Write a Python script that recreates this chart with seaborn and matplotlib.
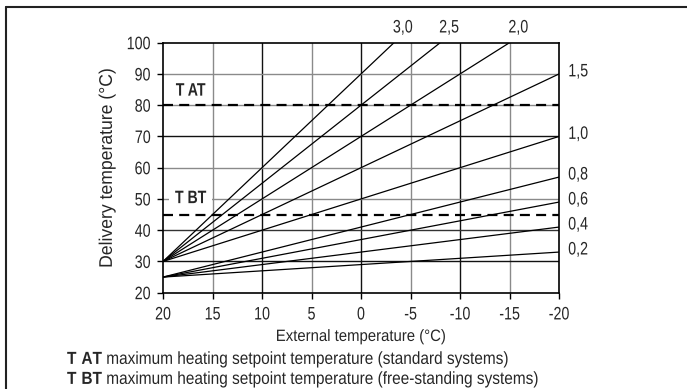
import matplotlib
matplotlib.use("Agg")
import matplotlib.pyplot as plt
from matplotlib import patheffects
from matplotlib.lines import Line2D
from matplotlib.transforms import Affine2D
import pandas as pd
import seaborn as sns

# Heating curves: slope (K of delivery temp per K of outdoor temp) and base temperature at 20 °C outside
curve_slopes = [3.0, 2.5, 2.0, 1.5, 1.0, 0.8, 0.6, 0.4, 0.2]
curve_base = [30, 30, 30, 30, 30, 25, 25, 25, 25]
curve_labels = ["3,0", "2,5", "2,0", "1,5", "1,0", "0,8", "0,6", "0,4", "0,2"]

# Maximum setpoints
t_at = 80
t_bt = 45

x_ticks = [20, 15, 10, 5, 0, -5, -10, -15, -20]
y_ticks = [20, 30, 40, 50, 60, 70, 80, 90, 100]

# Grid line shades (alternating dark / light)
v_grid = [15, 10, 5, 0, -5, -10, -15]
v_grid_col = ["#8a8a8a", "#111111", "#8a8a8a", "#111111", "#8a8a8a", "#111111", "#8a8a8a"]
h_grid = [30, 40, 50, 60, 70, 80, 90]
h_grid_col = ["#111111", "#333333", "#8a8a8a", "#8a8a8a", "#111111", "#8a8a8a", "#8a8a8a"]

X_MAX, X_MIN, Y_MIN, Y_MAX = 20, -20, 20, 100


class Squeeze(patheffects.AbstractPathEffect):
    """Draw text horizontally condensed (narrow face look), keeping its anchor."""

    def __init__(self, sx=0.82, anchor=0.5):
        super().__init__()
        self.sx = sx
        self.anchor = anchor

    def draw_path(self, renderer, gc, tpath, affine, rgbFace=None):
        if len(tpath.vertices):
            ext = tpath.get_extents()
            x0 = ext.x0 + self.anchor * ext.width
        else:
            x0 = 0.0
        t = Affine2D().translate(-x0, 0).scale(self.sx, 1).translate(x0, 0) + affine
        renderer.draw_path(gc, tpath, t, rgbFace)


sns.set_style("ticks")
plt.rcParams["font.family"] = ["Liberation Sans", "DejaVu Sans"]
plt.rcParams["mathtext.fontset"] = "custom"
plt.rcParams["mathtext.rm"] = "Liberation Sans"
plt.rcParams["mathtext.bf"] = "Liberation Sans:bold"

# Build the line segments of each curve (start at 20 °C, end at 100 °C or -20 °C)
rows = []
ends = []
for s, b, lab in zip(curve_slopes, curve_base, curve_labels):
    x_end = max(X_MIN, X_MAX - (Y_MAX - b) / s)
    y_end = b + s * (X_MAX - x_end)
    ends.append((x_end, y_end))
    rows.append({"ext": X_MAX, "delivery": b, "curve": lab})
    rows.append({"ext": x_end, "delivery": y_end, "curve": lab})
df = pd.DataFrame(rows)

fig = plt.figure(figsize=(6.87, 3.89), dpi=100)
ax = fig.add_axes([163 / 687, 1 - 292.7 / 389, (559 - 163) / 687, (292.7 - 42.7) / 389])

for xv, c in zip(v_grid, v_grid_col):
    ax.axvline(xv, color=c, lw=1.0, zorder=1)
for yv, c in zip(h_grid, h_grid_col):
    ax.axhline(yv, color=c, lw=1.0, zorder=1)

sns.lineplot(data=df, x="ext", y="delivery", hue="curve", palette=["black"] * len(curve_labels),
             legend=False, lw=0.9, ax=ax, zorder=3, estimator=None, sort=False)

for yv in (t_at, t_bt):
    ax.axhline(yv, color="black", lw=1.6, linestyle=(0, (4.5, 2.8)), zorder=4)

ax.set_xlim(X_MAX, X_MIN)
ax.set_ylim(Y_MIN, Y_MAX)
ax.set_xticks(x_ticks)
ax.set_yticks(y_ticks)
ax.set_xticklabels([str(v) for v in x_ticks])
ax.set_yticklabels([str(v) for v in y_ticks])
ax.tick_params(axis="both", direction="out", length=4.5, width=1, color="black", labelsize=13)
ax.tick_params(axis="x", pad=5.4)
ax.tick_params(axis="y", pad=4.3)
for sp in ax.spines.values():
    sp.set_visible(True)
    sp.set_color("black")
    sp.set_linewidth(1.2)

ax.set_xlabel("External temperature (°C)", fontsize=11.8)
ax.set_ylabel("Delivery temperature (°C)", fontsize=13.2)
ax.xaxis.set_label_coords(0.5, -0.145)
ax.yaxis.set_label_coords(-0.119, 0.5)
ax.xaxis.label.set_path_effects([Squeeze(0.91, 0.5)])
ax.yaxis.label.set_path_effects([Squeeze(0.96, 0.5)])

for lab in ax.get_xticklabels():
    lab.set_path_effects([Squeeze(0.79, 0.5)])
for lab in ax.get_yticklabels():
    lab.set_path_effects([Squeeze(0.79, 1.0)])

# Labels at the top (curves ending at 100 °C) and on the right (curves ending at -20 °C)
for (x_end, y_end), lab in zip(ends, curve_labels):
    if x_end > X_MIN:
        ax.annotate(lab, (x_end, y_end), xytext=(6.3, 10.6), textcoords="offset points",
                    ha="center", va="center", fontsize=13, annotation_clip=False,
                    path_effects=[Squeeze(0.79, 0.5)])
    else:
        ax.annotate(lab, (x_end, y_end), xytext=(6.5, 1.5), textcoords="offset points",
                    ha="left", va="center", fontsize=13, annotation_clip=False,
                    path_effects=[Squeeze(0.79, 0.0)])

ax.text(17.2, 84.5, "T AT", fontsize=13, fontweight="bold", ha="center", va="center",
        zorder=5, path_effects=[Squeeze(0.78, 0.5)])
ax.text(17.2, 50.1, "T BT", fontsize=13, fontweight="bold", ha="center", va="center", zorder=5,
        bbox=dict(facecolor="white", edgecolor="none", pad=1.0),
        path_effects=[Squeeze(0.78, 0.5)])

# Legend lines beneath the chart
fig.text(67 / 687, 1 - 364 / 389,
         r"$\mathbf{T\ AT}$ maximum heating setpoint temperature (standard systems)",
         fontsize=12.6, ha="left", va="baseline", path_effects=[Squeeze(0.88, 0.0)])
fig.text(67 / 687, 1 - 384 / 389,
         r"$\mathbf{T\ BT}$ maximum heating setpoint temperature (free-standing systems)",
         fontsize=12.6, ha="left", va="baseline", path_effects=[Squeeze(0.88, 0.0)])

# Frame around the figure
fig.add_artist(Line2D([6 / 687, 6 / 687], [0, 1 - 7 / 389], color="#222222", lw=1.5,
                      transform=fig.transFigure))
fig.add_artist(Line2D([6 / 687, 1], [1 - 7 / 389, 1 - 7 / 389], color="#222222", lw=1.5,
                      transform=fig.transFigure))

fig.savefig("out.png", dpi=100)
